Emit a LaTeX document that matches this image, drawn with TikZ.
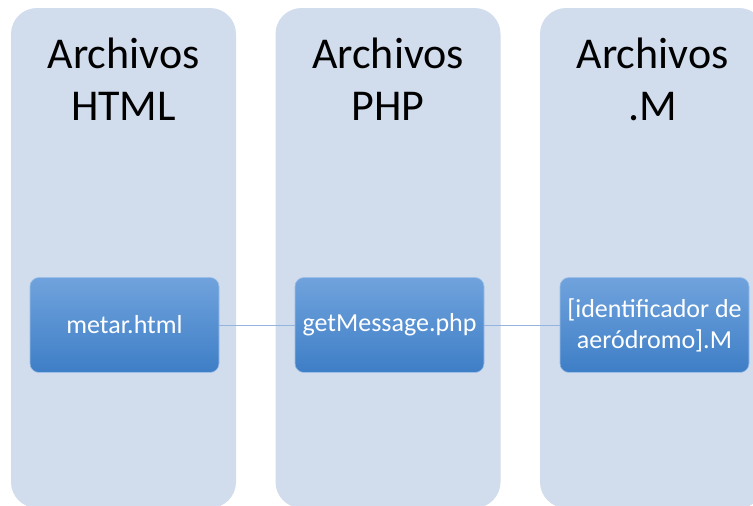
\documentclass[tikz,border=0pt]{standalone}
\usepackage{fontspec}
\setmainfont{Carlito}
\usetikzlibrary{positioning, calc}

\definecolor{colfill}{RGB}{209,220,237}
\definecolor{boxtop}{RGB}{112,163,221}
\definecolor{boxbot}{RGB}{62,126,198}
\definecolor{linkline}{RGB}{148,180,222}

\begin{document}
\begin{tikzpicture}[x=1pt, y=1pt, node distance=264.5pt, on grid]
    \tikzstyle{column}=[rectangle, rounded corners=26pt, fill=colfill, minimum width=225pt, minimum height=500pt]
    \tikzstyle{header}=[anchor=north, align=center, inner sep=0pt, font=\fontsize{44}{52}\selectfont]
    \tikzstyle{file}=[rectangle, rounded corners=9pt, top color=boxtop, bottom color=boxbot, draw=boxtop!70!white, line width=0.6pt, minimum width=189pt, minimum height=95pt, align=center, text=white, font=\fontsize{26}{31}\selectfont]

    \useasboundingbox (0,0) rectangle (753,-506);
    \clip (0,0) rectangle (753,-506);

    % columns
    \node[column] (c_html) at (123.5,-258) {};
    \node[column] [right of = c_html] (c_php) {};
    \node[column] [right of = c_php] (c_m) {};

    \node[header] (h_html) at ($(c_html.north)+(0,-30)$) {Archivos\\HTML};
    \node[header] (h_php) at ($(c_php.north)+(0,-30)$) {Archivos\\PHP};
    \node[header] (h_m) at ($(c_m.north)+(0,-30)$) {Archivos\\.M};

    % files
    \node[file] (f_html) at (124.5,-325) {metar.html};
    \node[file] [right=265pt of f_html] (f_php) {getMessage.php};
    \node[file] [right=265pt of f_php] (f_m) {[identificador de\\aeródromo].M};

    \path[draw=linkline, line width=0.8pt]
    (f_html) edge[] node{} (f_php)
    (f_php) edge[] node{} (f_m);
\end{tikzpicture}
\end{document}
